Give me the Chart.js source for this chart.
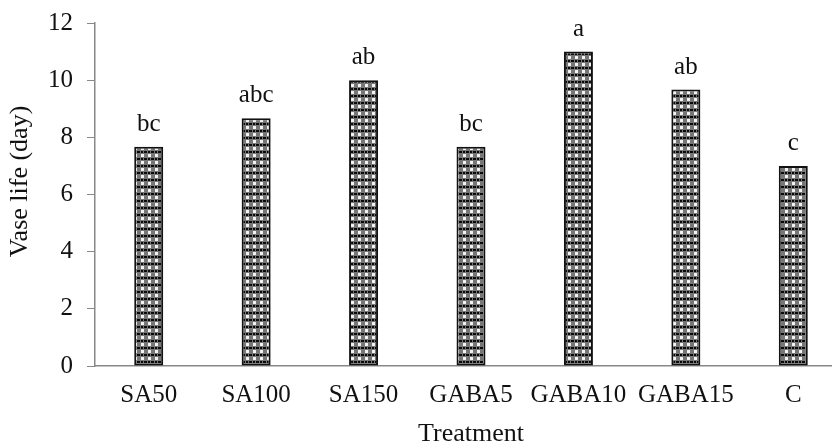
<!DOCTYPE html>
<html>
<head>
<meta charset="utf-8">
<script src="https://cdn.jsdelivr.net/npm/chart.js@4"></script>
<style>
  html, body { margin: 0; padding: 0; background: #fff; overflow: hidden; }
  #wrap { width: 860px; height: 447px; }
</style>
</head>
<body>
<div id="wrap"><canvas id="barChart" width="860" height="447"></canvas></div>
<script>
// data
const treatments = ['SA50', 'SA100', 'SA150', 'GABA5', 'GABA10', 'GABA15', 'C'];
const vaseLife = [7.67, 8.67, 10.0, 7.67, 11.0, 9.67, 7.0];
const letters = ['bc', 'abc', 'ab', 'bc', 'a', 'ab', 'c'];
const yTicks = [0, 2, 4, 6, 8, 10, 12];
const yTitle = 'Vase life (day)';
const xTitle = 'Treatment';

const FONT = 'Liberation Serif';

// dotted grey fill like the original bars
function makePattern() {
    const p = document.createElement('canvas');
    p.width = 7; p.height = 7;
    const c = p.getContext('2d');
    c.fillStyle = '#767676';
    c.fillRect(0, 0, 7, 7);
    c.fillStyle = '#f2f2f2';
    c.fillRect(1, 0, 3, 3);
    c.fillStyle = '#0a0a0a';
    c.fillRect(4, 4, 3, 2);
    c.fillRect(1, 4, 2, 2);
    return c.createPattern(p, 'repeat');
}

// letters above each bar + y title (sits a bit above the plot centre in the original)
const letterPlugin = {
    id: 'letters',
    afterDatasetsDraw(chart) {
        const ctx = chart.ctx;
        const meta = chart.getDatasetMeta(0);
        ctx.save();
        ctx.font = '25px "' + FONT + '"';
        ctx.fillStyle = '#111';
        ctx.textAlign = 'center';
        ctx.textBaseline = 'alphabetic';
        meta.data.forEach((bar, i) => {
            ctx.fillText(letters[i], bar.x, bar.y - 16);
        });
        ctx.restore();
    },
    afterDraw(chart) {
        const ctx = chart.ctx;
        const area = chart.chartArea;
        ctx.save();
        ctx.font = '26px "' + FONT + '"';
        ctx.fillStyle = '#111';
        ctx.textAlign = 'center';
        ctx.textBaseline = 'middle';
        ctx.translate(20, (area.top + area.bottom) / 2 - 13);
        ctx.rotate(-Math.PI / 2);
        ctx.fillText(yTitle, 0, 0);
        ctx.restore();
    }
};

const ctx = document.getElementById('barChart').getContext('2d');
new Chart(ctx, {
    type: 'bar',
    data: {
        labels: treatments,
        datasets: [{
            data: vaseLife,
            backgroundColor: makePattern(),
            borderColor: '#111',
            borderWidth: 2,
            borderSkipped: false,
            barPercentage: 0.27,
            categoryPercentage: 1
        }]
    },
    options: {
        responsive: false,
        animation: false,
        events: [],
        layout: { padding: { top: 23, right: 13, left: 0, bottom: 0 } },
        plugins: { legend: { display: false }, tooltip: { enabled: false } },
        scales: {
            x: {
                afterFit(scale) { scale.height = 81; scale.paddingLeft = 0; scale.paddingRight = 0; },
                grid: { display: true, drawOnChartArea: false, drawTicks: false, color: '#888' },
                border: { color: '#888', width: 1.5 },
                ticks: { color: '#111', font: { family: FONT, size: 25 }, padding: 14, maxRotation: 0 },
                title: { display: true, text: xTitle, color: '#111', font: { family: FONT, size: 26, lineHeight: 1.0 }, padding: { top: 0, bottom: 0 } }
            },
            y: {
                min: 0,
                max: 12,
                afterFit(scale) { scale.width = 95; scale.paddingTop = 0; scale.paddingBottom = 0; },
                afterBuildTicks(scale) { scale.ticks = yTicks.map(v => ({ value: v })); },
                grid: { display: true, drawOnChartArea: false, drawTicks: true, tickLength: 8, color: '#888' },
                border: { color: '#888', width: 1.5 },
                ticks: { color: '#111', font: { family: FONT, size: 25 }, padding: 14 },
                title: { display: false }
            }
        }
    },
    plugins: [letterPlugin]
});
</script>
</body>
</html>
